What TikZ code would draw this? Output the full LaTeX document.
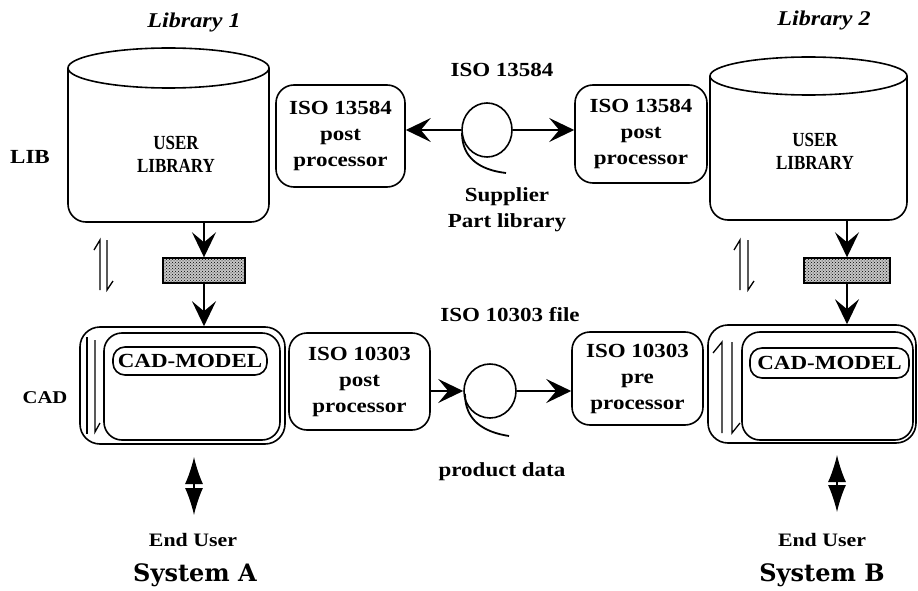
\documentclass[tikz,border=0pt]{standalone}
\usepackage{fontspec}
\setmainfont{Liberation Serif}
\newfontfamily\wf{Liberation Serif}[FakeStretch=1.15]
\newfontfamily\nf{Liberation Serif}[FakeStretch=0.85]
\newfontfamily\sysf{DejaVu Serif}
\usetikzlibrary{arrows.meta,shapes.geometric,patterns}
\newcommand{\fA}{\wf\bfseries\fontsize{20}{26}\selectfont}
\tikzset{
  ln/.style={line width=1.6pt},
  box/.style={draw, ln, rounded corners=18pt, align=center, inner sep=0pt, font=\fA},
  txt/.style={align=center, inner sep=0pt, font=\fA},
  arr/.style={line width=1.6pt, -{Stealth[length=25pt,width=24pt,inset=10pt]}},
  dbl/.style={line width=1.2pt, {Latex[length=27pt,width=18pt]}-{Latex[length=27pt,width=18pt]}},
  shbox/.style={draw, line width=1.4pt, fill=gray!45, postaction={pattern=crosshatch dots, pattern color=black}, inner sep=0pt},
  tape/.style={draw, ln, ellipse, inner sep=0pt},
  hp/.style={line width=1.3pt}
}
\begin{document}
\begin{tikzpicture}[x=1pt,y=-1pt]
\useasboundingbox (0,0) rectangle (918,591);

% ---------- headings and side labels
\node[txt, font=\wf\bfseries\itshape\fontsize{21}{24}\selectfont] (lib1) at (194,22) {Library\hspace{6pt}1};
\node[txt, font=\wf\bfseries\itshape\fontsize{21}{24}\selectfont] (lib2) at (824,20) {Library\hspace{6pt}2};
\node[txt] (LIB) at (30,157) {LIB};
\node[txt, font=\wf\bfseries\fontsize{18}{24}\selectfont] (CAD) at (45,398) {CAD};

% ---------- cylinders
\draw[ln, rounded corners=18pt] (68,68) -- (68,222) -- (269,222) -- (269,68);
\draw[ln, fill=white] (168.5,68) ellipse [x radius=100.5, y radius=20];
\node[inner sep=0pt, minimum width=201, minimum height=174] (cyl1) at (168.5,135) {};
\node[align=center, inner sep=0pt, font=\nf\bfseries\fontsize{20}{23}\selectfont] (ul1) at (176,154) {USER\\LIBRARY};

\draw[ln, rounded corners=18pt] (710,76) -- (710,220) -- (907,220) -- (907,76);
\draw[ln, fill=white] (808.5,76) ellipse [x radius=98.5, y radius=19];
\node[inner sep=0pt, minimum width=197, minimum height=163] (cyl2) at (808.5,138.5) {};
\node[align=center, inner sep=0pt, font=\nf\bfseries\fontsize{20}{23}\selectfont] (ul2) at (815,151) {USER\\LIBRARY};

% ---------- shaded boxes
\node[shbox, minimum width=82, minimum height=25] (sh1) at (204,270.5) {};
\node[shbox, minimum width=86, minimum height=25] (sh2) at (847,270.5) {};

% ---------- harpoon pairs
\draw[hp] (94,250) -- (100,240) -- (100,290);
\draw[hp] (107,240) -- (107,290) -- (113,281);
\draw[hp] (734,250) -- (740,240) -- (740,290);
\draw[hp] (748,240) -- (748,290) -- (754,281);

% ---------- CAD systems
\node[draw, ln, rounded corners=20pt, minimum width=205, minimum height=117] (cad1) at (182.5,385.5) {};
\node[draw, ln, rounded corners=18pt, minimum width=176, minimum height=107] (cad1i) at (192,386.5) {};
\node[draw, ln, rounded corners=12pt, minimum width=154, minimum height=28, inner sep=0pt, font=\fA] (cm1) at (190,361) {CAD-MODEL};
\draw[hp] (87,337) -- (87,434);
\draw[hp] (95,340) -- (95,432) -- (100,423);

\node[draw, ln, rounded corners=20pt, minimum width=208, minimum height=118] (cad2) at (812,384) {};
\node[draw, ln, rounded corners=18pt, minimum width=171, minimum height=108] (cad2i) at (827.5,386) {};
\node[draw, ln, rounded corners=12pt, minimum width=159, minimum height=30, inner sep=0pt, font=\fA] (cm2) at (829.5,363) {CAD-MODEL};
\draw[hp] (713,353) -- (722,342) -- (722,433);
\draw[hp] (732,342) -- (732,433) -- (740,423);

% ---------- vertical arrows
\draw[arr] (sh1 |- cyl1.south) -- (sh1.north);
\draw[arr] (sh1.south) -- (sh1 |- cad1.north);
\draw[arr] (sh2 |- cyl2.south) -- (sh2.north);
\draw[arr] (sh2.south) -- (sh2 |- cad2.north);

% ---------- processors
\node[box, minimum width=129, minimum height=102] (p1) at (340.5,136) {ISO 13584\\post\\processor};
\node[box, minimum width=132, minimum height=98] (p2) at (641,134) {ISO 13584\\post\\processor};
\node[box, minimum width=141, minimum height=97] (p3) at (359.5,381.5) {ISO 10303\\post\\processor};
\node[box, minimum width=131, minimum height=93] (p4) at (637.5,378.5) {ISO 10303\\pre\\processor};

% ---------- tapes
\node[tape, minimum width=50, minimum height=54] (t1) at (487,130) {};
\draw[line width=1.8pt] (462,133) .. controls (462,158) and (480,170) .. (506,173);
\node[tape, minimum width=52, minimum height=54] (t2) at (490,391) {};
\draw[line width=1.8pt] (465,394) .. controls (465,420) and (483,432) .. (509,436);

\draw[arr] (t1.west) -- (p1.east |- t1.west);
\draw[arr] (t1.east) -- (p2.west |- t1.east);
\draw[arr] (p3.east |- t2.west) -- (t2.west);
\draw[arr] (t2.east) -- (p4.west |- t2.east);

\node[txt] (iso1) at (502,70) {ISO 13584};
\node[txt] (sup) at (507,210) {Supplier\\Part library};
\node[txt] (iso2) at (510,315) {ISO 10303 file};
\node[txt] (pd) at (502,472) {product data};

% ---------- end users
\coordinate (d1a) at (194,457);
\coordinate (d1b) at (194,515);
\coordinate (d2a) at (837,455);
\coordinate (d2b) at (837,512);
\draw[dbl] (d1a) -- (d1b);
\draw[dbl] (d2a) -- (d2b);
\node[txt, font=\wf\bfseries\fontsize{19}{22}\selectfont] (eu1) at (193,540) {End User};
\node[txt, font=\wf\bfseries\fontsize{19}{22}\selectfont] (eu2) at (822,540) {End User};
\node[inner sep=0pt, font=\sysf\bfseries\fontsize{24}{28}\selectfont] (sa) at (195,575) {System A};
\node[inner sep=0pt, font=\sysf\bfseries\fontsize{24}{28}\selectfont] (sb) at (822,575) {System B};
\end{tikzpicture}
\end{document}
